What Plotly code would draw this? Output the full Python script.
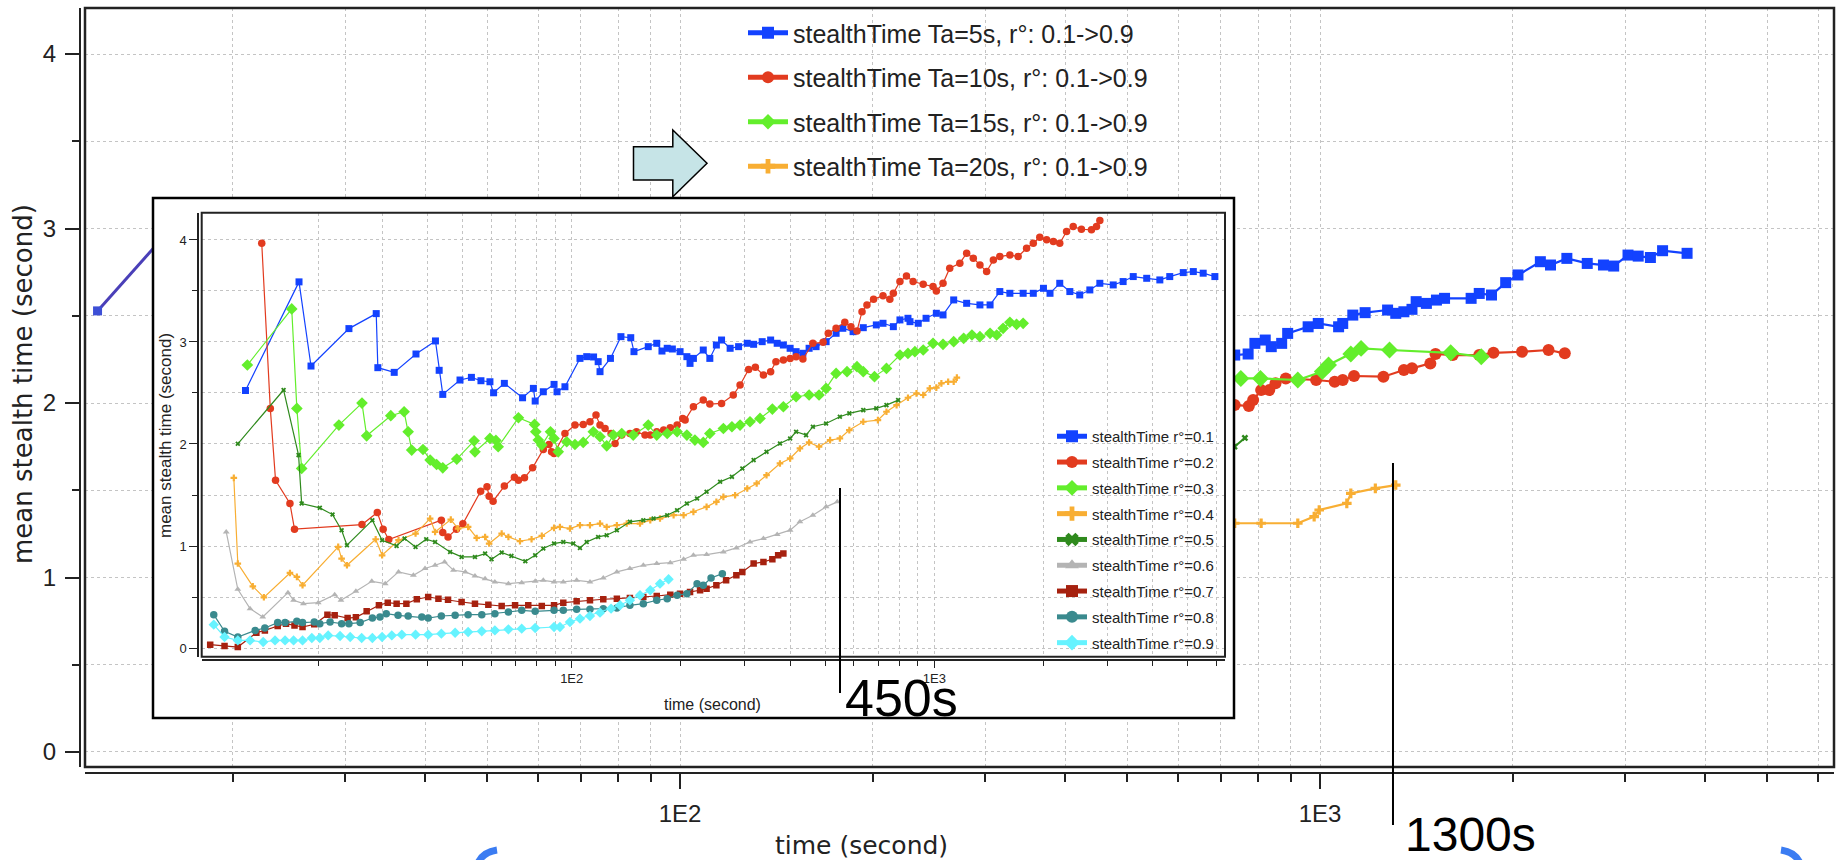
import plotly.graph_objects as go

# ---------------- data ----------------
# main chart (Ta series), visible parts
main_ta5 = [(735.6, 2.275), (772, 2.281), (791, 2.342), (821, 2.361), (839, 2.323), (871, 2.342), (890, 2.399),
            (958, 2.437), (993.6, 2.456), (1069, 2.437), (1085, 2.456), (1125, 2.504), (1176, 2.518), (1275, 2.533),
            (1313, 2.514), (1352, 2.523), (1392, 2.537), (1413, 2.581), (1466, 2.571), (1520, 2.590), (1565, 2.600),
            (1722, 2.600), (1773, 2.628), (1853, 2.619), (1950, 2.690), (2038, 2.734), (2209, 2.810), (2291, 2.791),
            (2430, 2.829), (2615, 2.800), (2772, 2.791), (2876, 2.785), (3028, 2.848), (3141, 2.842), (3282, 2.834),
            (3429, 2.873), (3745, 2.858)]
main_ta10 = [(735.6, 1.989), (774, 1.983), (786, 2.017), (809, 2.074), (833, 2.074), (852, 2.113), (884, 2.141),
             (986, 2.132), (1054, 2.122), (1085, 2.132), (1130, 2.155), (1256, 2.151), (1352, 2.189), (1392, 2.199),
             (1487, 2.227), (1515, 2.281), (1612, 2.275), (1773, 2.275), (1866, 2.288), (2068, 2.294), (2275, 2.304),
             (2412, 2.285)]
main_ta15 = [(752, 2.141), (807, 2.141), (923, 2.132), (1008, 2.180), (1031, 2.218), (1117, 2.281), (1159, 2.313),
             (1284, 2.304), (1600, 2.288), (1786, 2.265)]
main_ta20 = [(735.6, 1.311), (809, 1.311), (923, 1.311), (979, 1.349), (997, 1.387), (1101, 1.425), (1117, 1.482),
             (1220, 1.511), (1313, 1.530)]
main_ta25 = [(735, 1.75), (763, 1.80)]
main_left = [(12.3, 2.528), (16.85, 3.09)]

main_names = ["stealthTime Ta=5s, r°: 0.1->0.9", "stealthTime Ta=10s, r°: 0.1->0.9",
              "stealthTime Ta=15s, r°: 0.1->0.9", "stealthTime Ta=20s, r°: 0.1->0.9"]

# inset chart (Ta=5s, r° = 0.1 ... 0.9)
r01 = [(12.6, 2.525), (17.7, 3.589), (19.1, 2.764), (24.3, 3.131), (28.9, 3.278), (29.2, 2.748), (32.4, 2.702),
       (37.2, 2.882), (42.1, 3.010), (43.1, 2.722), (44.1, 2.486), (49.2, 2.627), (52.9, 2.653), (56.2, 2.620),
       (59.5, 2.610), (60.9, 2.502), (65.2, 2.594), (73.2, 2.453), (78.4, 2.545), (79.3, 2.421), (83.5, 2.512),
       (89.4, 2.584), (91.1, 2.512), (95.8, 2.561), (105.4, 2.839), (110, 2.856), (114.9, 2.853), (118.3, 2.807),
       (119.7, 2.709), (127.9, 2.839), (136.7, 3.052), (145.5, 3.042), (148.5, 2.905), (162.6, 2.954),
       (171.6, 2.987), (177.4, 2.911), (183.4, 2.938), (189.5, 2.931), (199, 2.905), (207.8, 2.856), (212, 2.790),
       (216.6, 2.839), (230.6, 2.921), (240.4, 2.839), (250.6, 2.970), (259, 3.019), (273.5, 2.938),
       (288.6, 2.954), (304.9, 2.987), (317.5, 2.977), (335.2, 3.003), (353.7, 3.019), (368.7, 2.987),
       (383.5, 2.970), (400.3, 2.938), (415.8, 2.905), (434.1, 2.889), (451.6, 2.938), (472, 2.954), (503, 3.003),
       (536, 3.085), (559.5, 3.134), (597, 3.101), (637, 3.140), (692, 3.167), (722, 3.183), (771, 3.150),
       (804, 3.216), (846, 3.232), (857, 3.199), (903, 3.183), (949, 3.232), (1013, 3.281), (1057, 3.265),
       (1131, 3.412), (1228, 3.379), (1336, 3.363), (1425, 3.363), (1516, 3.494), (1616, 3.477), (1758, 3.477),
       (1875, 3.477), (2000, 3.526), (2085, 3.477), (2218, 3.575), (2365, 3.494), (2518, 3.461), (2685, 3.510),
       (2861, 3.575), (3115, 3.559), (3317, 3.592), (3537, 3.641), (3853, 3.624), (4188, 3.608), (4460, 3.641),
       (4860, 3.680), (5180, 3.690), (5515, 3.674), (5940, 3.641)]
r02 = [(13.97, 3.968), (14.75, 2.349), (15.25, 1.645), (16.71, 1.416), (17.2, 1.165), (26.4, 1.210), (29.1, 1.328),
       (30.2, 1.165), (31.3, 1.063), (43.7, 1.253), (44.1, 1.132), (45.6, 1.089), (48.1, 1.165), (50.1, 1.217),
       (56.1, 1.537), (58.4, 1.580), (59.2, 1.488), (60.7, 1.439), (65.2, 1.587), (69.5, 1.675), (71.3, 1.645),
       (74.1, 1.668), (78.0, 1.766), (83.5, 1.946), (86.6, 1.995), (88.0, 1.923), (89.4, 1.907), (95.8, 2.103),
       (102.1, 2.185), (107.6, 2.192), (112.3, 2.218), (116.7, 2.283), (119.7, 2.185), (123.6, 2.152),
       (128.4, 2.103), (131.7, 2.005), (137.4, 2.087), (144.7, 2.103), (150.9, 2.120), (159.3, 2.087),
       (164.7, 2.087), (171.6, 2.120), (179.3, 2.136), (187, 2.159), (195.3, 2.185), (202.4, 2.251),
       (205.5, 2.234), (216.6, 2.365), (230.6, 2.430), (240.4, 2.391), (259, 2.398), (279, 2.480), (291.3, 2.578),
       (307.6, 2.731), (321, 2.751), (337.9, 2.676), (353.7, 2.709), (365.8, 2.807), (383.5, 2.823),
       (400.3, 2.839), (415.8, 2.856), (434.1, 2.833), (462.5, 2.987), (493.5, 2.996), (510, 3.085), (536, 3.134),
       (566.5, 3.193), (589, 3.150), (612, 3.108), (632, 3.297), (652, 3.363), (680, 3.418), (722, 3.454),
       (754, 3.418), (771, 3.477), (804, 3.592), (838, 3.647), (874, 3.592), (932, 3.566), (992, 3.543),
       (1013, 3.500), (1057, 3.575), (1103, 3.723), (1176, 3.772), (1228, 3.870), (1281, 3.821), (1336, 3.755),
       (1394, 3.690), (1455, 3.804), (1516, 3.837), (1616, 3.853), (1703, 3.837), (1797, 3.919), (1875, 3.968),
       (1954, 4.027), (2041, 4.001), (2130, 3.984), (2218, 3.968), (2316, 4.082), (2416, 4.131), (2545, 4.105),
       (2713, 4.099), (2801, 4.131), (2861, 4.190)]
r03 = [(12.75, 2.774), (16.9, 3.324), (17.46, 2.349), (18.0, 1.760), (22.8, 2.185), (26.4, 2.401), (27.2, 2.080),
       (31.7, 2.277), (34.5, 2.316), (35.4, 2.120), (36.2, 1.940), (38.9, 1.946), (40.7, 1.842), (42.4, 1.799),
       (44.1, 1.766), (48.2, 1.852), (53.8, 2.031), (54.1, 1.923), (59.5, 2.054), (61.8, 2.035), (62.7, 1.973),
       (71.3, 2.257), (79.0, 2.192), (79.6, 2.120), (80.9, 2.038), (82.7, 1.989), (87.4, 2.120), (89.4, 2.054),
       (91.8, 1.923), (96.9, 2.022), (102.1, 1.995), (107.6, 2.015), (114.7, 2.120), (119.7, 2.071),
       (124.9, 1.982), (130.3, 2.087), (137.4, 2.103), (147.8, 2.087), (162.6, 2.185), (171.6, 2.087),
       (183.4, 2.103), (195.3, 2.120), (207.8, 2.087), (218.7, 2.038), (230.6, 2.015), (240.4, 2.103),
       (262, 2.152), (276.6, 2.169), (291.3, 2.185), (310.3, 2.218), (330.6, 2.251), (357.6, 2.342),
       (383.5, 2.365), (415.8, 2.463), (451.6, 2.480), (481, 2.480), (503, 2.545), (536, 2.692), (574.5, 2.709),
       (612, 2.758), (637, 2.709), (684, 2.660), (738, 2.741), (804, 2.872), (846, 2.888), (884, 2.905),
       (932, 2.921), (992, 2.987), (1057, 2.977), (1131, 3.003), (1205, 3.036), (1270, 3.068), (1336, 3.052),
       (1425, 3.085), (1486, 3.068), (1548, 3.134), (1616, 3.193), (1686, 3.173), (1758, 3.183)]
r04 = [(11.7, 1.668), (12.0, 0.828), (13.2, 0.605), (14.16, 0.497), (16.71, 0.736), (17.46, 0.697), (18.1, 0.615),
       (22.7, 0.991), (23.2, 0.877), (24.0, 0.811), (28.8, 1.066), (30.0, 0.909), (33.3, 1.057), (37.1, 1.122),
       (40.7, 1.269), (42.0, 1.138), (46.4, 1.259), (48.6, 1.171), (51.8, 1.187), (54.7, 1.079), (57.7, 1.089),
       (59.2, 1.024), (64.1, 1.122), (66.9, 1.089), (72.0, 1.047), (77.5, 1.066), (82.7, 1.099), (89.4, 1.178),
       (92.8, 1.187), (98.9, 1.171), (105.4, 1.204), (112.3, 1.204), (119.7, 1.220), (124.9, 1.187),
       (133.2, 1.204), (141.8, 1.220), (154.3, 1.220), (164.7, 1.253), (175.2, 1.269), (191, 1.302),
       (203.5, 1.302), (216.6, 1.335), (235.5, 1.384), (250.6, 1.433), (262, 1.482), (282.3, 1.498),
       (304.9, 1.564), (323.7, 1.613), (344.6, 1.694), (375.3, 1.809), (400.3, 1.858), (426, 1.956),
       (451.6, 2.015), (481, 1.973), (516, 2.038), (549, 2.054), (583, 2.136), (637, 2.218), (699, 2.234),
       (738, 2.316), (787, 2.381), (846, 2.453), (893, 2.496), (932, 2.480), (972, 2.545), (1013, 2.552),
       (1046, 2.594), (1092, 2.610), (1131, 2.610), (1154, 2.650)]
r05 = [(12.0, 2.002), (16.05, 2.529), (17.65, 1.891), (18.0, 1.416), (20.2, 1.374), (21.9, 1.308), (23.2, 1.155),
       (24.0, 1.008), (28.2, 1.253), (30.0, 1.057), (32.9, 1.001), (34.6, 1.073), (37.1, 0.991), (39.7, 1.066),
       (42.0, 1.040), (46.2, 0.942), (49.7, 0.893), (54.1, 0.893), (57.7, 0.926), (60.1, 0.870), (64.1, 0.936),
       (68.2, 0.903), (74.5, 0.850), (79.3, 0.909), (83.5, 0.975), (89.4, 1.024), (94.8, 1.040), (101, 1.024),
       (105.4, 0.981), (110, 1.040), (118.3, 1.089), (124.9, 1.106), (133.2, 1.155), (144.7, 1.237),
       (157.6, 1.253), (168.2, 1.269), (183.4, 1.302), (195.3, 1.351), (207.8, 1.416), (221.7, 1.466),
       (235.5, 1.531), (256.6, 1.629), (276.6, 1.678), (295.5, 1.760), (317.5, 1.842), (344.6, 1.923),
       (375.3, 2.005), (400.3, 2.054), (415.8, 2.120), (443, 2.087), (462.5, 2.169), (503, 2.201), (549, 2.267),
       (583, 2.300), (637, 2.332), (692, 2.349), (738, 2.381), (795, 2.430)]
r06 = [(11.15, 1.138), (12.0, 0.576), (12.97, 0.386), (14.06, 0.304), (16.5, 0.543), (17.1, 0.468), (18.2, 0.435),
       (20.0, 0.445), (22.2, 0.523), (23.1, 0.468), (25.4, 0.556), (28.1, 0.654), (30.6, 0.631), (33.3, 0.746),
       (36.6, 0.713), (39.4, 0.779), (42.0, 0.811), (44.6, 0.844), (47.2, 0.762), (50.9, 0.746), (54.1, 0.707),
       (57.7, 0.680), (61.4, 0.648), (66.9, 0.631), (72.8, 0.641), (79.3, 0.654), (83.5, 0.664), (89.4, 0.648),
       (94.8, 0.648), (103.2, 0.664), (112.3, 0.648), (122.2, 0.687), (133.2, 0.746), (144.7, 0.779),
       (157.6, 0.811), (171.6, 0.828), (187, 0.837), (203.5, 0.870), (216.6, 0.909), (235.5, 0.916),
       (262, 0.942), (284.5, 0.981), (310.3, 1.040), (337.9, 1.073), (368.7, 1.112), (400.3, 1.155),
       (426, 1.237), (462.5, 1.302), (503, 1.384), (540, 1.433)]
r07 = [(10.07, 0.033), (11.03, 0.020), (12.0, 0.010), (13.5, 0.150), (14.25, 0.173), (15.46, 0.216), (16.3, 0.239),
       (17.2, 0.222), (18.1, 0.206), (19.5, 0.232), (21.2, 0.327), (22.2, 0.321), (24.1, 0.294), (25.4, 0.301),
       (27.2, 0.360), (29.4, 0.419), (31.1, 0.445), (32.9, 0.435), (35.0, 0.435), (37.4, 0.478), (40.2, 0.500),
       (42.9, 0.484), (45.6, 0.474), (49.7, 0.451), (54.1, 0.435), (58.9, 0.425), (64.1, 0.412), (69.8, 0.419),
       (75.9, 0.419), (82.7, 0.412), (89.4, 0.419), (94.8, 0.445), (103.2, 0.458), (112.3, 0.468),
       (122.2, 0.478), (133.2, 0.484), (144.7, 0.491), (157.6, 0.500), (171.6, 0.510), (187, 0.523),
       (199, 0.533), (212, 0.550), (226, 0.566), (235.5, 0.582), (250.6, 0.615), (266.6, 0.664), (284.5, 0.713),
       (295.5, 0.746), (317.5, 0.828), (337.9, 0.844), (357.6, 0.870), (371, 0.909), (383.5, 0.926)]
r08 = [(10.3, 0.327), (11.03, 0.164), (12.0, 0.108), (13.4, 0.173), (14.25, 0.196), (15.46, 0.249), (16.2, 0.249),
       (17.46, 0.262), (18.1, 0.249), (19.5, 0.255), (20.2, 0.239), (21.56, 0.255), (23.2, 0.239), (24.3, 0.239),
       (26.1, 0.249), (28.2, 0.294), (29.6, 0.304), (30.8, 0.337), (33.2, 0.321), (35.4, 0.314), (38.6, 0.304),
       (40.2, 0.294), (43.7, 0.314), (47.7, 0.321), (51.8, 0.327), (56.5, 0.327), (61.4, 0.337), (66.9, 0.353),
       (72.8, 0.370), (79.3, 0.360), (89.4, 0.370), (94.8, 0.370), (103.2, 0.379), (112.3, 0.379),
       (122.2, 0.386), (133.2, 0.393), (144.7, 0.419), (157.6, 0.435), (171.6, 0.468), (183.4, 0.484),
       (195.3, 0.517), (207.8, 0.533), (221.7, 0.631), (230.6, 0.615), (242.3, 0.687), (260.3, 0.729)]
r09 = [(10.3, 0.229), (11.03, 0.108), (12.0, 0.075), (12.97, 0.075), (14.1, 0.059), (15.2, 0.075), (16.2, 0.075),
       (17.1, 0.075), (18.1, 0.075), (19.2, 0.098), (20.2, 0.098), (21.3, 0.124), (22.97, 0.118), (24.5, 0.108),
       (26.35, 0.098), (28.2, 0.098), (30.0, 0.108), (31.9, 0.124), (34.0, 0.131), (37.1, 0.131), (40.2, 0.131),
       (43.7, 0.141), (47.7, 0.150), (51.8, 0.157), (56.5, 0.164), (61.4, 0.173), (66.9, 0.183), (72.8, 0.190),
       (79.3, 0.196), (89.4, 0.206), (92.8, 0.206), (98.9, 0.255), (105.4, 0.288), (112.3, 0.314),
       (119.7, 0.347), (128.4, 0.386), (135.9, 0.419), (144.7, 0.468), (154.3, 0.517), (164.7, 0.566),
       (175.2, 0.631), (185, 0.674)]

inset_series = [r01, r02, r03, r04, r05, r06, r07, r08, r09]
inset_names = ["stealthTime r°=0.%d" % i for i in range(1, 10)]

x_major = [100, 1000]
x_major_text = ["1E2", "1E3"]
x_minor = [20, 30, 40, 50, 60, 70, 80, 90, 200, 300, 400, 500, 600, 700, 800, 900,
           2000, 3000, 4000, 5000, 6000]
y_major = [0, 1, 2, 3, 4]
y_minor = [0.5, 1.5, 2.5, 3.5]

# ---------------- styles ----------------
W, H = 1839, 860
FONT = "Liberation Sans, Arial, sans-serif"
WIDE = "DejaVu Sans, Verdana, sans-serif"
INK = "#222222"
GRID = "#c4c4c4"


def px(x):
    return x / W


def py(y):
    return 1 - y / H


def xs(s):
    return [p[0] for p in s]


def ys(s):
    return [p[1] for p in s]


main_styles = [
    dict(color="#1342ff", symbol="square", size=11),
    dict(color="#e23b1f", symbol="circle", size=12),
    dict(color="#63ee2c", symbol="diamond", size=13),
    dict(color="#f8ae33", symbol="cross", size=8),
]
inset_styles = [
    dict(color="#1342ff", symbol="square", size=7),
    dict(color="#e23b1f", symbol="circle", size=7.5),
    dict(color="#63ee2c", symbol="diamond", size=9),
    dict(color="#f8ae33", symbol="cross", size=5.5),
    dict(color="#2f8a1d", symbol="x", size=4.5),
    dict(color="#b4b4b4", symbol="triangle-up", size=6),
    dict(color="#a6210f", symbol="square", size=6.5),
    dict(color="#3a8a8e", symbol="circle", size=7.5),
    dict(color="#66f3ff", symbol="diamond", size=8),
]

fig = go.Figure()

# main chart traces
for i, (s, name) in enumerate(zip([main_ta5, main_ta10, main_ta15, main_ta20], main_names)):
    st = main_styles[i]
    fig.add_trace(go.Scatter(
        x=xs(s), y=ys(s), mode="lines+markers", name=name, legendgroup="m%d" % i,
        line=dict(color=st["color"], width=2.2),
        marker=dict(color=st["color"], symbol=st["symbol"], size=st["size"], line=dict(width=0)),
        xaxis="x", yaxis="y", legend="legend"))
fig.add_trace(go.Scatter(
    x=xs(main_ta25), y=ys(main_ta25), mode="lines+markers", showlegend=False,
    line=dict(color="#2f8a1d", width=2), marker=dict(color="#2f8a1d", symbol="x", size=6),
    xaxis="x", yaxis="y"))
fig.add_trace(go.Scatter(
    x=xs(main_left), y=ys(main_left), mode="lines+markers", showlegend=False,
    line=dict(color="#4a3fb8", width=3), marker=dict(color="#3d4fd6", symbol="square", size=9),
    xaxis="x", yaxis="y"))

# cover panel (white background for the inset)
fig.add_trace(go.Scatter(x=[0.5], y=[0.5], mode="markers", marker=dict(opacity=0), showlegend=False,
                         hoverinfo="skip", xaxis="x2", yaxis="y2"))

# inset traces
for i, (s, name) in enumerate(zip(inset_series, inset_names)):
    st = inset_styles[i]
    fig.add_trace(go.Scatter(
        x=xs(s), y=ys(s), mode="lines+markers", name=name, legendgroup="i%d" % i,
        line=dict(color=st["color"], width=1.2),
        marker=dict(color=st["color"], symbol=st["symbol"], size=st["size"], line=dict(width=0)),
        xaxis="x3", yaxis="y3", legend="legend2"))


def grid_axis(**kw):
    d = dict(showline=True, linecolor=INK, ticks="outside", tickcolor=INK, showgrid=True,
             gridcolor=GRID, griddash="dot", gridwidth=1, zeroline=False, fixedrange=True)
    d.update(kw)
    return d


fig.update_layout(
    width=W, height=H, margin=dict(l=0, r=0, t=0, b=0),
    paper_bgcolor="white", plot_bgcolor="white",
    font=dict(family=FONT, color=INK),
    xaxis=grid_axis(type="log", domain=[px(85), px(1834)], range=[1.0703, 3.803], anchor="free",
                    position=py(773), linewidth=2, ticklen=15, tickwidth=2,
                    tickvals=x_major, ticktext=x_major_text, tickfont=dict(size=24, color=INK),
                    ticklabelstandoff=4,
                    minor=dict(tickvals=x_minor, ticks="outside", ticklen=8, tickwidth=1.5, tickcolor=INK,
                               showgrid=True, gridcolor=GRID, griddash="dot", gridwidth=1)),
    yaxis=grid_axis(domain=[py(767), py(8)], range=[-0.086, 4.264], anchor="free", position=px(80),
                    linewidth=2, ticklen=14, tickwidth=2, tickvals=y_major, tickfont=dict(size=24, color=INK),
                    ticklabelstandoff=4,
                    minor=dict(tickvals=y_minor, ticks="outside", ticklen=7, tickwidth=1.5, tickcolor=INK,
                               showgrid=True, gridcolor=GRID, griddash="dot", gridwidth=1)),
    xaxis2=dict(domain=[px(153), px(1234)], range=[0, 1], visible=False, anchor="y2", fixedrange=True),
    yaxis2=dict(domain=[py(718), py(198)], range=[0, 1], visible=False, anchor="x2", fixedrange=True),
    xaxis3=grid_axis(type="log", domain=[px(201.7), px(1225)], range=[0.9796, 3.8017], anchor="free",
                     position=py(660), linewidth=1.5, ticklen=7, tickwidth=1.2,
                     tickvals=x_major, ticktext=x_major_text, tickfont=dict(size=13, color=INK),
                     minor=dict(tickvals=x_minor, ticks="outside", ticklen=5, tickwidth=1, tickcolor=INK,
                                showgrid=True, gridcolor=GRID, griddash="dot", gridwidth=1)),
    yaxis3=grid_axis(domain=[py(656.7), py(212.7)], range=[-0.085, 4.267], anchor="free", position=px(198),
                     linewidth=1.5, ticklen=8, tickwidth=1.2, tickvals=y_major, tickfont=dict(size=13, color=INK),
                     minor=dict(tickvals=y_minor, ticks="outside", ticklen=5, tickwidth=1, tickcolor=INK,
                                showgrid=True, gridcolor=GRID, griddash="dot", gridwidth=1)),
    legend=dict(x=px(743), y=py(10), xanchor="left", yanchor="top", bgcolor="rgba(0,0,0,0)",
                font=dict(size=25, color=INK, family=FONT), traceorder="grouped", tracegroupgap=9,
                itemsizing="constant", itemwidth=40),
    legend2=dict(x=px(1052), y=py(420), xanchor="left", yanchor="top", bgcolor="rgba(0,0,0,0)",
                 font=dict(size=15, color=INK, family=FONT), traceorder="grouped", tracegroupgap=3.3,
                 itemsizing="constant", itemwidth=30),
    showlegend=True,
)

# frames and decorations
arrow = [(633.5, 146.7), (672.8, 146.7), (672.8, 130), (707, 163.3), (672.8, 196.7), (672.8, 180), (633.5, 180)]
arrow_path = "M " + " L ".join("%.5f,%.5f" % (px(a), py(b)) for a, b in arrow) + " Z"

shapes = [
    dict(type="rect", xref="paper", yref="paper", x0=px(85), x1=px(1834), y0=py(767), y1=py(8),
         line=dict(color=INK, width=2.5), layer="above"),
    dict(type="rect", xref="paper", yref="paper", x0=px(153), x1=px(1234), y0=py(718), y1=py(198),
         line=dict(color="black", width=2.5), layer="above"),
    dict(type="rect", xref="paper", yref="paper", x0=px(201.7), x1=px(1225), y0=py(656.7), y1=py(212.7),
         line=dict(color=INK, width=2), layer="above"),
    dict(type="line", xref="paper", yref="paper", x0=px(840), x1=px(840), y0=py(488), y1=py(693),
         line=dict(color="black", width=2), layer="above"),
    dict(type="line", xref="x", yref="paper", x0=1300, x1=1300, y0=py(463), y1=py(825),
         line=dict(color="black", width=2), layer="above"),
    dict(type="path", xref="paper", yref="paper", path=arrow_path, fillcolor="#c6e4e7",
         line=dict(color="black", width=1.5), layer="above"),
    dict(type="path", xref="paper", yref="paper",
         path="M %.5f,%.5f Q %.5f,%.5f %.5f,%.5f" % (px(478), py(863), px(483), py(852), px(497), py(850)),
         line=dict(color="#3b7cf2", width=7), layer="above"),
    dict(type="path", xref="paper", yref="paper",
         path="M %.5f,%.5f Q %.5f,%.5f %.5f,%.5f" % (px(1781), py(850), px(1795), py(852), px(1800), py(863)),
         line=dict(color="#3b7cf2", width=7), layer="above"),
]
fig.update_layout(shapes=shapes)


def label(text, x, y, size, family=FONT, angle=0, xanchor="center", color=INK):
    return dict(text=text, x=px(x), y=py(y), xref="paper", yref="paper", showarrow=False,
                xanchor=xanchor, yanchor="middle", textangle=angle,
                font=dict(size=size, color=color, family=family))


annotations = [
    label("time (second)", 861, 845, 25, family=WIDE),
    label("mean stealth time (second)", 23, 384, 26, family=WIDE, angle=-90),
    label("time (second)", 712, 704, 16),
    label("mean stealth time (second)", 165, 436, 17, angle=-90),
    label("450s", 843, 698, 52, xanchor="left", color="black"),
    label("1300s", 1403, 834, 48, xanchor="left", color="black"),
]
fig.update_layout(annotations=annotations)

fig.write_html("out.html")
